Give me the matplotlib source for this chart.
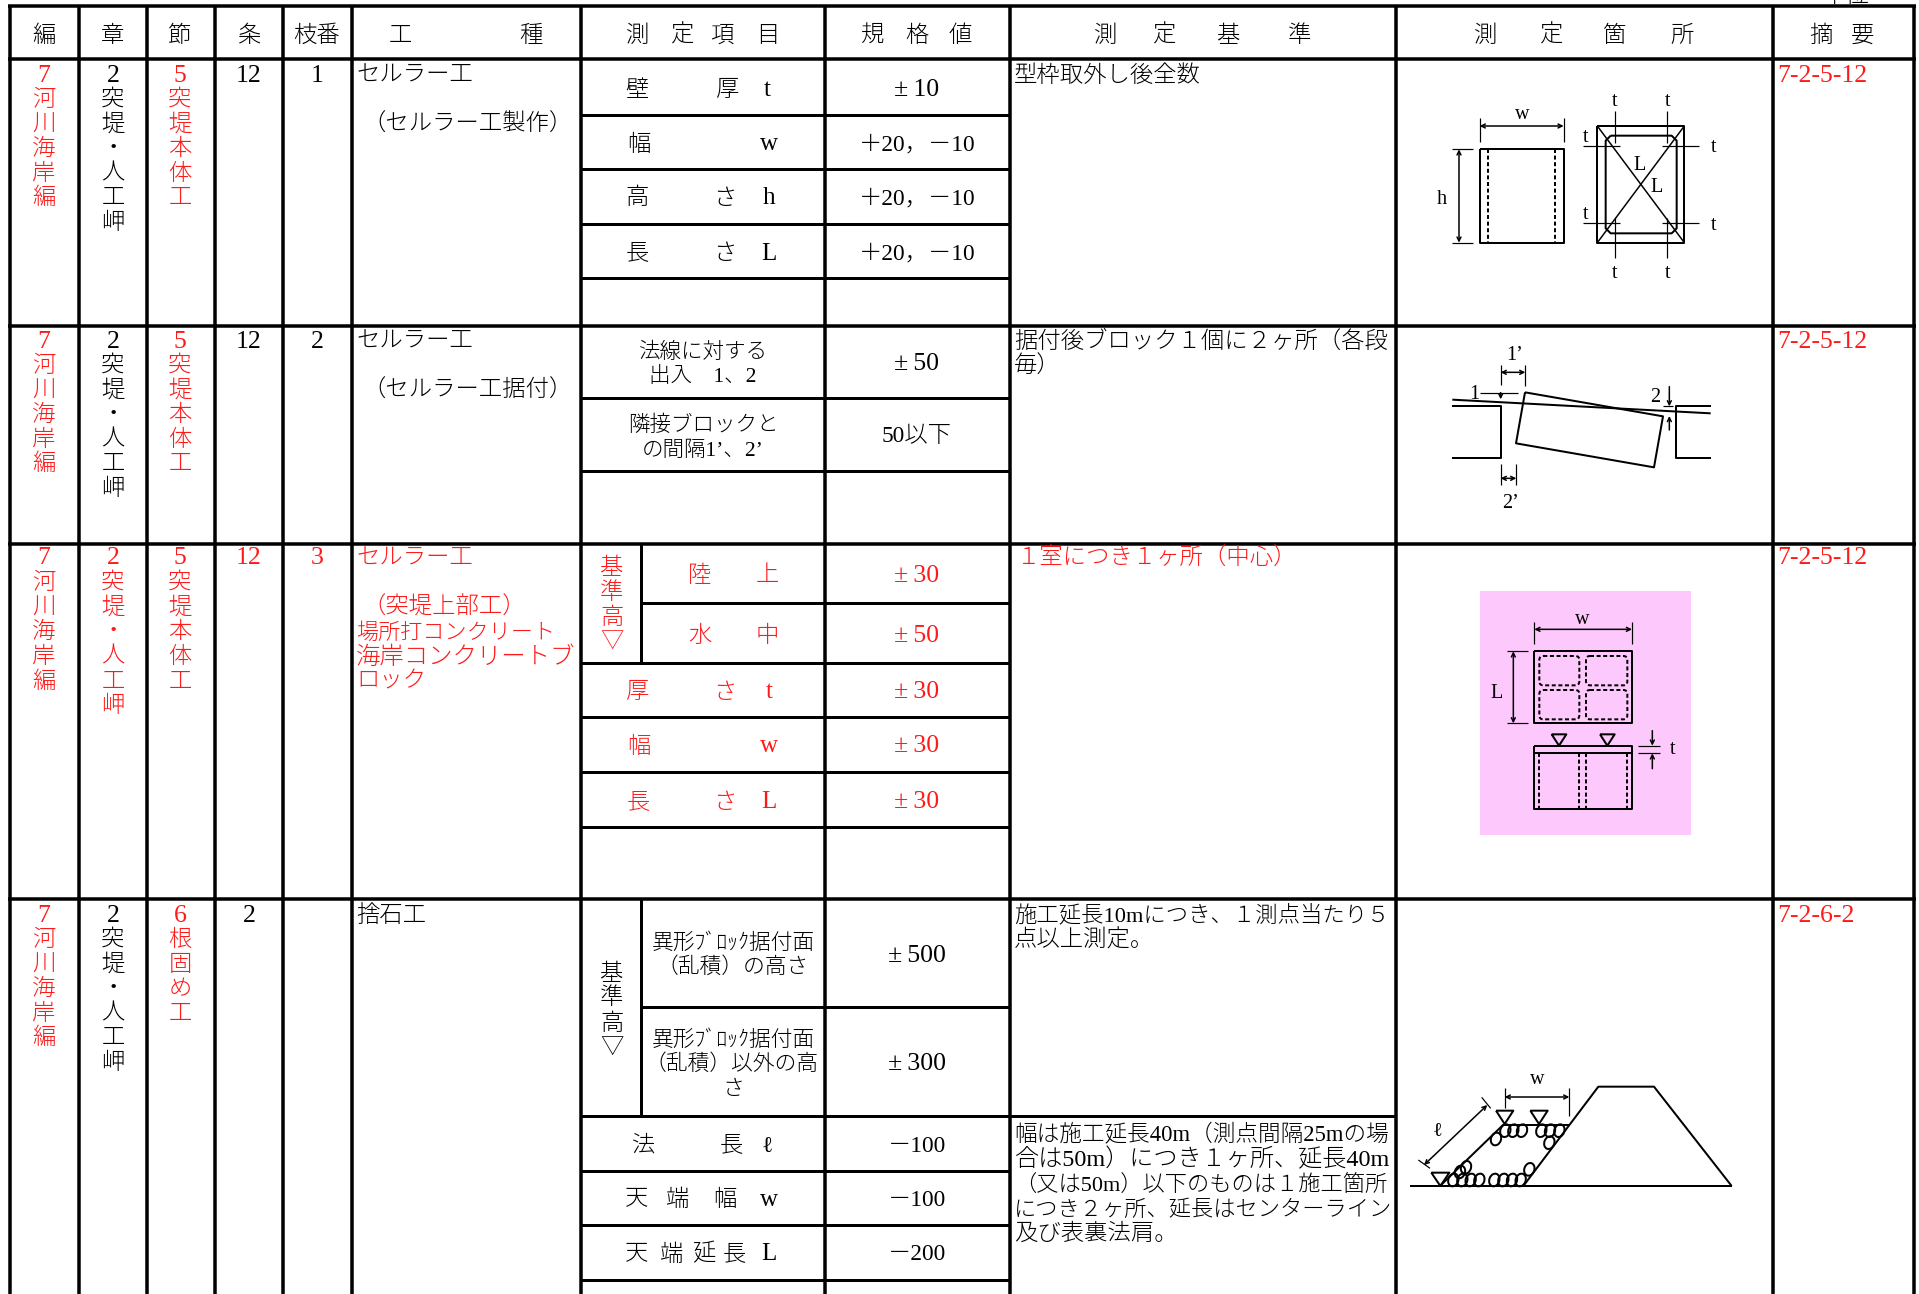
import matplotlib
matplotlib.use("Agg")
import matplotlib.pyplot as plt
from matplotlib.patches import Ellipse, FancyBboxPatch, Polygon, Rectangle

FONT = ['Liberation Serif', 'Noto Sans CJK JP']
RED = '#ff1a1a'
PX = 0.72  # one pixel in points at dpi 100
NUM = 18.5  # latin digits are wider in the reference

# table text
chapter_hen = ['7', '河', '川', '海', '岸', '編']
chapter_sho = ['2', '突', '堤', '・', '人', '工', '岬']
chapter_setsu5 = ['5', '突', '堤', '本', '体', '工']
chapter_setsu6 = ['6', '根', '固', 'め', '工']
jo_values = ['12', '12', '12', '2']
eda_values = ['1', '2', '3', '']
summary_values = ['7-2-5-12', '7-2-5-12', '7-2-5-12', '7-2-6-2']
row1_spec = ['±10', '＋20，－10', '＋20，－10', '＋20，－10']
row3_spec = ['±30', '±50', '±30', '±30', '±30']
row4_spec = ['±500', '±300', '－100', '－100', '－200']

# table grid
col_x = [10, 78.5, 147, 215, 283, 352, 581, 825, 1010, 1396, 1773, 1914]
row_y = [6, 59, 325.5, 544, 899, 1294]

fig = plt.figure(figsize=(19.19, 12.94), dpi=100)
ax = fig.add_axes([0, 0, 1, 1])
ax.set_xlim(0, 1919)
ax.set_ylim(1294, 0)
ax.axis('off')


def txt(x, y, s, color='black', ha='center', size=16.8):
    ax.text(x, y + 8.5, s, color=color, ha=ha, va='baseline', fontsize=size,
            family=FONT, fontweight='light', zorder=5)


def spec(y, s, color='black'):
    # wide plus-minus sign as in the reference
    s = s.replace('±', '±\u2009')
    txt(917, y, s, color, size=NUM if '±' in s else 16.8)


def vtxt(x, y, chars, color='black', step=24.6):
    for i, c in enumerate(chars):
        txt(x, y + i * step, c, color, size=NUM if c.isdigit() else 16.8)


def spaced(xs, y, parts, color='black'):
    for x, p in zip(xs, parts):
        txt(x, y, p, color, size=18 if p.isascii() else 16.8)


def hline(y, x0, x1, w=3):
    ax.plot([x0, x1], [y, y], color='black', lw=w * PX, solid_capstyle='butt', zorder=3)


def vline(x, y0, y1, w=3):
    ax.plot([x, x], [y0, y1], color='black', lw=w * PX, solid_capstyle='butt', zorder=3)


# grid lines
for x in col_x:
    vline(x, row_y[0], row_y[-1], 3.5)
for y in row_y[:-1]:
    hline(y, col_x[0] - 2, col_x[-1] + 2, 3.5)
for y in [115, 169, 224, 278, 398, 471, 663, 717, 772, 827, 1116, 1171, 1225, 1280]:
    hline(y, col_x[6], col_x[8], 3)
hline(603, 641, col_x[8])
hline(1007, 641, col_x[8])
vline(641, row_y[3], 663)
vline(641, row_y[4], 1116)
hline(1116, col_x[8], col_x[9])

# header
head_y = 33
txt(44, head_y, '編')
txt(113, head_y, '章')
txt(180, head_y, '節')
txt(249, head_y, '条')
txt(317, head_y, '枝番')
spaced([400, 531], head_y, ['工', '種'])
spaced([638, 683, 722, 768], head_y, ['測', '定', '項', '目'])
spaced([873, 917, 960], head_y, ['規', '格', '値'])
spaced([1106, 1165, 1229, 1300], head_y, ['測', '定', '基', '準'])
spaced([1486, 1552, 1615, 1682], head_y, ['測', '定', '箇', '所'])
spaced([1821, 1863], head_y, ['摘', '要'])
txt(1846, -6, '単位')

# left columns
row_top = [73, 339, 556, 913]
for i, y in enumerate(row_top):
    vtxt(44, y, chapter_hen, RED)
    vtxt(113, y, chapter_sho, RED if i == 2 else 'black')
    vtxt(180, y, chapter_setsu6 if i == 3 else chapter_setsu5, RED)
    c = RED if i == 2 else 'black'
    txt(249, y, jo_values[i], c, size=NUM)
    txt(317, y, eda_values[i], c, size=NUM)
    txt(1777, y, summary_values[i], RED, ha='left', size=NUM)

# work type
txt(356, 73, 'セルラー工', ha='left')
txt(362, 122, '（セルラー工製作）', ha='left')
txt(356, 339, 'セルラー工', ha='left')
txt(362, 388, '（セルラー工据付）', ha='left')
txt(356, 556, 'セルラー工', RED, ha='left')
txt(362, 605, '（突堤上部工）', RED, ha='left')
txt(356, 630, '場所打コンクリート', RED, ha='left', size=15.9)
txt(356, 655, '海岸コンクリートブ', RED, ha='left', size=17.6)
txt(356, 679, 'ロック', RED, ha='left')
txt(356, 913, '捨石工', ha='left')

# measured items, row 1
spaced([637, 728, 767], 88, ['壁', '厚', 't'])
spaced([639, 769], 142, ['幅', 'w'])
spaced([637, 725, 769], 196, ['高', 'さ', 'h'])
spaced([637, 725, 769], 251, ['長', 'さ', 'L'])
for y, v in zip([88, 142, 196, 251], row1_spec):
    spec(y, v)

# row 2
txt(703, 349, '法線に対する', size=15.5)
txt(703, 373, '出入　1、2', size=15.5)
txt(703, 422, '隣接ブロックと', size=15.5)
txt(703, 447, 'の間隔1’、2’', size=15.5)
spec(362, '±50')
spec(434, '50以下')

# row 3
vtxt(612, 566, ['基', '準', '高', '▽'], RED)
spaced([700, 767], 573, ['陸', '上'], RED)
spaced([700, 767], 634, ['水', '中'], RED)
spaced([638, 725, 769], 690, ['厚', 'さ', 't'], RED)
spaced([639, 769], 744, ['幅', 'w'], RED)
spaced([638, 725, 769], 800, ['長', 'さ', 'L'], RED)
for y, v in zip([573, 634, 690, 744, 800], row3_spec):
    spec(y, v, RED)

# row 4
vtxt(612, 971, ['基', '準', '高', '▽'], step=25)
txt(733, 940, '異形ﾌﾞﾛｯｸ据付面', size=15.7)
txt(733, 964, '（乱積）の高さ', size=15.7)
txt(733, 1037, '異形ﾌﾞﾛｯｸ据付面', size=15.7)
txt(731, 1061, '（乱積）以外の高', size=15.7)
txt(733, 1086, 'さ', size=15.7)
spaced([644, 731, 767], 1143, ['法', '長', 'ℓ'])
spaced([637, 677, 725, 769], 1197, ['天', '端', '幅', 'w'])
spaced([637, 671, 704, 734, 769], 1252, ['天', '端', '延', '長', 'L'])
for y, v in zip([953, 1061, 1143, 1197, 1252], row4_spec):
    spec(y, v)

# criteria
txt(1014, 73, '型枠取外し後全数', ha='left')
txt(1014, 339, '据付後ブロック１個に２ヶ所（各段', ha='left')
txt(1014, 364, '毎）', ha='left')
txt(1017, 556, '１室につき１ヶ所（中心）', RED, ha='left')
txt(1014, 913, '施工延長10mにつき、１測点当たり５', ha='left', size=16.1)
txt(1014, 938, '点以上測定。', ha='left')
txt(1014, 1133, '幅は施工延長40m（測点間隔25mの場', ha='left', size=16.3)
txt(1014, 1158, '合は50m）につき１ヶ所、延長40m', ha='left', size=17.4)
txt(1014, 1182, '（又は50m）以下のものは１施工箇所', ha='left', size=16)
txt(1014, 1207, 'につき２ヶ所、延長はセンターライン', ha='left', size=16)
txt(1014, 1231, '及び表裏法肩。', ha='left')


# diagrams, drawn in zoomed pixel coordinates around an origin
class Sketch:
    def __init__(self, ox, oy):
        self.ox, self.oy = ox, oy

    def p(self, x, y):
        return self.ox + x / 3, self.oy + y / 3

    def line(self, pts, w=2, ls='-', color='black'):
        xy = [self.p(*q) for q in pts]
        ax.plot([q[0] for q in xy], [q[1] for q in xy], color=color, lw=w * PX, ls=ls,
                solid_capstyle='butt', zorder=4)

    def dash(self, pts, w=2):
        self.line(pts, w, ls=(0, (2, 1.3)))

    def rect(self, x0, y0, x1, y1, w=2):
        self.line([(x0, y0), (x1, y0), (x1, y1), (x0, y1), (x0, y0)], w)

    def arrow(self, a, b, style='<->'):
        ax.annotate('', xy=self.p(*b), xytext=self.p(*a), zorder=4,
                    arrowprops=dict(arrowstyle=style, lw=1.1, color='black', shrinkA=0, shrinkB=0,
                                    mutation_scale=7))

    def tri(self, x0, x1, ytop, ybot):
        self.line([(x0, ytop), (x1, ytop), ((x0 + x1) / 2, ybot), (x0, ytop)], 2)

    def label(self, x, y, s):
        px, py = self.p(x, y)
        txt(px, py - 2, s, size=14.5)


# cellular block
d1 = Sketch(1400, 60)
d1.rect(239, 268, 491, 548)
d1.dash([(265, 268), (265, 548)])
d1.dash([(465, 268), (465, 548)])
d1.arrow((239, 198), (491, 198))
d1.line([(239, 175), (239, 245)], 1.2)
d1.line([(491, 175), (491, 245)], 1.2)
d1.label(367, 158, 'w')
d1.arrow((177, 268), (177, 548))
d1.line([(155, 268), (218, 268)], 1.2)
d1.line([(155, 548), (218, 548)], 1.2)
d1.label(125, 412, 'h')
d1.rect(592, 198, 853, 548)
d1.line([(632, 227), (815, 227), (830, 242), (830, 505), (815, 520), (632, 520), (617, 505), (617, 242), (632, 227)])
d1.line([(592, 198), (853, 548)], 1.5)
d1.line([(853, 198), (592, 548)], 1.5)
for x in [644, 801]:
    d1.line([(x, 152), (x, 250)], 1.2)
    d1.line([(x, 475), (x, 595)], 1.2)
for y in [257, 490]:
    d1.line([(549, y), (660, y)], 1.2)
    d1.line([(785, y), (896, y)], 1.2)
for x, y in [(645, 118), (802, 118), (558, 225), (558, 458), (941, 257), (941, 489), (645, 635), (804, 635)]:
    d1.label(x, y, 't')
d1.label(719, 310, 'L')
d1.label(770, 375, 'L')

# placement
d2 = Sketch(1400, 330)
d2.line([(157, 229), (302, 229), (302, 383), (157, 383)])
d2.line([(932, 229), (827, 229), (827, 383), (932, 383)])
d2.line([(375, 187), (789, 259), (762, 412), (348, 340), (375, 187)])
d2.line([(157, 209), (932, 250)])
d2.arrow((302, 127), (376, 127))
d2.line([(302, 105), (302, 165)], 1.2)
d2.line([(376, 105), (376, 168)], 1.2)
d2.label(343, 70, '1’')
d2.label(222, 188, '1')
d2.line([(240, 188), (355, 188)], 1.2)
d2.arrow((302, 188), (302, 208), '->')
d2.label(765, 195, '2')
d2.arrow((808, 170), (808, 229), '->')
d2.line([(790, 229), (820, 229)], 1.2)
d2.arrow((808, 300), (808, 258), '->')
d2.arrow((302, 445), (349, 445))
d2.line([(302, 403), (302, 466)], 1.2)
d2.line([(349, 403), (349, 466)], 1.2)
d2.label(332, 516, '2’')

# top slab on pink
d3 = Sketch(1450, 580)
ax.add_patch(Rectangle(d3.p(90, 33), 211, 244, facecolor='#fdc9fd', edgecolor='none', zorder=2))
d3.rect(253, 214, 546, 430)
for x0, y0, x1, y1 in [(268, 228, 388, 316), (408, 228, 532, 316), (268, 330, 388, 418), (408, 330, 532, 418)]:
    a, b = d3.p(x0, y0), d3.p(x1, y1)
    ax.add_patch(FancyBboxPatch(a, b[0] - a[0], b[1] - a[1], boxstyle='round,pad=0,rounding_size=4',
                                fill=False, ec='black', lw=2 * PX, ls=(0, (2, 1.3)), zorder=4))
d3.arrow((253, 148), (546, 148))
d3.line([(253, 125), (253, 193)], 1.2)
d3.line([(546, 125), (546, 193)], 1.2)
d3.label(398, 112, 'w')
d3.arrow((190, 214), (190, 430))
d3.line([(170, 214), (233, 214)], 1.2)
d3.line([(170, 430), (233, 430)], 1.2)
d3.label(140, 333, 'L')
d3.rect(253, 497, 546, 688)
d3.line([(253, 520), (546, 520)])
for x in [268, 388, 408, 532]:
    d3.dash([(x, 520), (x, 688)])
d3.tri(305, 349, 463, 497)
d3.tri(450, 494, 463, 497)
d3.line([(565, 497), (630, 497)], 1.2)
d3.line([(565, 520), (630, 520)], 1.2)
d3.arrow((607, 452), (607, 497), '->')
d3.arrow((607, 566), (607, 520), '->')
d3.label(668, 502, 't')

# rubble mound
d4 = Sketch(1400, 1040)
d4.line([(30, 438), (995, 438)])
d4.line([(370, 438), (595, 140), (762, 140), (995, 438)])
d4.line([(310, 254), (510, 254)])
d4.line([(120, 438), (310, 254)])
d4.tri(94, 148, 398, 438)
d4.tri(288, 340, 212, 252)
d4.tri(391, 443, 212, 252)
d4.arrow((314, 171), (508, 171))
d4.line([(314, 145), (314, 205)], 1.2)
d4.line([(508, 145), (508, 228)], 1.2)
d4.label(411, 113, 'w')
d4.arrow((72, 375), (262, 195))
d4.line([(245, 172), (272, 205)], 1.2)
d4.line([(55, 360), (90, 385)], 1.2)
d4.label(113, 268, 'ℓ')
stones = [(316, 272), (340, 272), (366, 272), (424, 272), (450, 272), (478, 272), (288, 297), (448, 308),
          (160, 420), (187, 420), (212, 420), (238, 420), (283, 420), (310, 420), (336, 420), (362, 420),
          (198, 382), (180, 396), (388, 388)]
for x, y in stones:
    ax.add_patch(Ellipse(d4.p(x, y), 10, 13, angle=20, fill=False, ec='black', lw=2 * PX, zorder=4))

fig.savefig('out.png', dpi=100, facecolor='white')
